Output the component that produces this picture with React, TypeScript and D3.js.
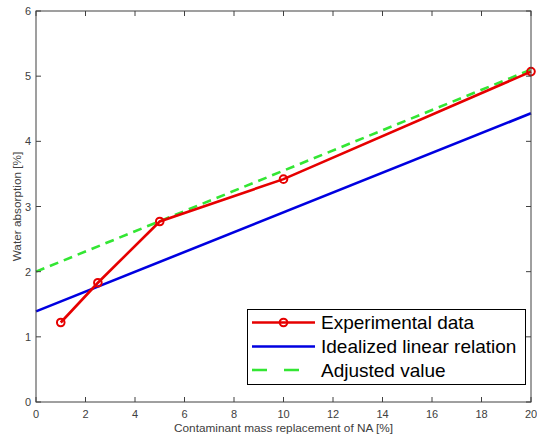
import React from "react";
import * as d3 from "d3";

const expX = [1, 2.5, 5, 10, 20];
const expY = [1.22, 1.83, 2.77, 3.42, 5.07];
const idealX = [0, 20];
const idealY = [1.39, 4.43];
const adjX = [0, 20];
const adjY = [2.0, 5.1];
const xTicks = [0, 2, 4, 6, 8, 10, 12, 14, 16, 18, 20];
const yTicks = [0, 1, 2, 3, 4, 5, 6];
const legendLabels = ["Experimental data", "Idealized linear relation", "Adjusted value"];

const W = 537, H = 443;
const L = 36, R = 531, T = 11, B = 402;

export default function App() {
  const x = d3.scaleLinear().domain([0, 20]).range([L, R]);
  const y = d3.scaleLinear().domain([0, 6]).range([B, T]);
  const line = d3.line<[number, number]>().x(d => x(d[0])).y(d => y(d[1]));
  const zip = (a: number[], b: number[]) => a.map((v, i) => [v, b[i]] as [number, number]);
  const axisColor = "#404040";
  const tick = 5;
  const lg = { x: 247.5, y: 309.5, w: 278, h: 75 };
  const rowY = [322.5, 346.5, 370];
  return (
    <svg width={W} height={H} style={{ position: "absolute", left: 0, top: 0, background: "#fff" }}
      fontFamily="'Liberation Sans', Arial, sans-serif">
      <rect x={0} y={0} width={W} height={H} fill="#fff" />
      {/* plot lines */}
      <path d={line(zip(adjX, adjY)) || ""} fill="none" stroke="#33e633" strokeWidth={2.6} strokeDasharray="9,6" />
      <path d={line(zip(idealX, idealY)) || ""} fill="none" stroke="#0000e0" strokeWidth={2.6} />
      <path d={line(zip(expX, expY)) || ""} fill="none" stroke="#e60000" strokeWidth={2.6} />
      {expX.map((v, i) => (
        <circle key={i} cx={x(v)} cy={y(expY[i])} r={3.8} fill="none" stroke="#e60000" strokeWidth={2} />
      ))}
      {/* axes box */}
      <rect x={L} y={T} width={R - L} height={B - T} fill="none" stroke={axisColor} strokeWidth={1} />
      {xTicks.map(t => (
        <g key={"x" + t}>
          <line x1={x(t)} x2={x(t)} y1={B} y2={B - tick} stroke={axisColor} />
          <line x1={x(t)} x2={x(t)} y1={T} y2={T + tick} stroke={axisColor} />
          <text x={x(t)} y={B + 16} textAnchor="middle" fontSize={11} fill={axisColor}>{t}</text>
        </g>
      ))}
      {yTicks.map(t => (
        <g key={"y" + t}>
          <line x1={L} x2={L + tick} y1={y(t)} y2={y(t)} stroke={axisColor} />
          <line x1={R} x2={R - tick} y1={y(t)} y2={y(t)} stroke={axisColor} />
          <text x={L - 5} y={y(t) + 4} textAnchor="end" fontSize={11} fill={axisColor}>{t}</text>
        </g>
      ))}
      <text x={(L + R) / 2} y={431.5} textAnchor="middle" fontSize={11.8} fill={axisColor}>
        Contaminant mass replacement of NA [%]
      </text>
      <text transform={`translate(20.5,${(T + B) / 2}) rotate(-90)`} textAnchor="middle" fontSize={11.8} fill={axisColor}>
        Water absorption [%]
      </text>
      {/* legend */}
      <rect x={lg.x} y={lg.y} width={lg.w} height={lg.h} fill="#fff" stroke="#000" strokeWidth={1} />
      <line x1={252} x2={315} y1={rowY[0]} y2={rowY[0]} stroke="#e60000" strokeWidth={2.6} />
      <circle cx={283.5} cy={rowY[0]} r={3.8} fill="none" stroke="#e60000" strokeWidth={2} />
      <line x1={252} x2={315} y1={rowY[1]} y2={rowY[1]} stroke="#0000e0" strokeWidth={2.6} />
      <line x1={252} x2={315} y1={rowY[2]} y2={rowY[2]} stroke="#33e633" strokeWidth={2.6} strokeDasharray="15,17" />
      {legendLabels.map((s, i) => (
        <text key={s} x={321} y={rowY[i] + 6.5} fontSize={19} fill="#000">{s}</text>
      ))}
    </svg>
  );
}
